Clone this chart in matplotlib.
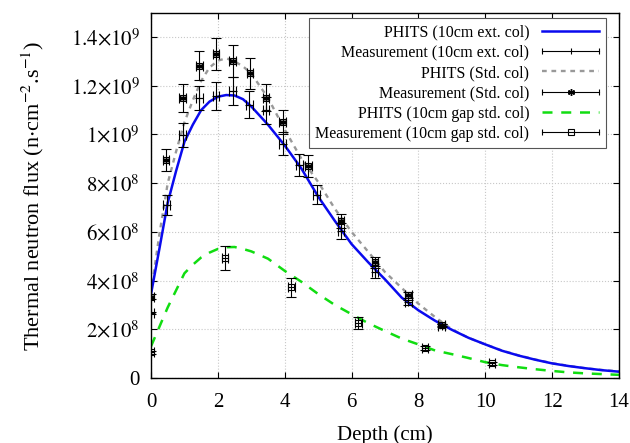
import matplotlib
matplotlib.use('Agg')
import matplotlib.pyplot as plt
import numpy as np
from matplotlib.lines import Line2D
from matplotlib.legend_handler import HandlerBase
from matplotlib.ticker import FuncFormatter, MultipleLocator

plt.rcParams['font.family'] = ['Liberation Serif', 'DejaVu Serif']
plt.rcParams['mathtext.fontset'] = 'stix'

# simulation curves (flux in 1e8 n/cm2/s)
depth_sim = [0, 0.25, 0.5, 0.75, 1.0, 1.25, 1.5, 1.75, 2.0, 2.25, 2.5, 2.75, 3.0,
             3.5, 4.0, 4.5, 5.0, 5.5, 6.0, 6.5, 7.0, 7.5, 8.0, 8.5, 9.0, 9.5,
             10.0, 10.5, 11.0, 11.5, 12.0, 12.5, 13.0, 13.5, 14.0]
phits_ext = [3.45, 5.3, 7.2, 8.5, 9.7, 10.4, 11.0, 11.35, 11.55, 11.62, 11.6, 11.45, 11.15,
             10.4, 9.55, 8.6, 7.45, 6.45, 5.5, 4.75, 4.05, 3.3, 2.78, 2.35, 1.98, 1.65,
             1.38, 1.12, 0.92, 0.75, 0.6, 0.49, 0.4, 0.32, 0.26]
phits_std = [3.5, 5.9, 8.0, 9.3, 10.5, 11.4, 12.2, 12.75, 13.03, 13.13, 13.0, 12.8, 12.5,
             11.5, 10.2, 9.0, 8.05, 6.95, 6.0, 5.18, 4.35, 3.7, 3.05, 2.5, 2.0, 1.65,
             1.38, 1.13, 0.93, 0.76, 0.61, 0.5, 0.4, 0.33, 0.27]
phits_gap = [1.3, 2.1, 2.9, 3.6, 4.3, 4.65, 4.95, 5.15, 5.3, 5.37, 5.38, 5.3, 5.2,
             4.9, 4.4, 3.95, 3.45, 3.0, 2.62, 2.25, 1.93, 1.62, 1.38, 1.13, 0.98, 0.82,
             0.65, 0.53, 0.44, 0.36, 0.29, 0.23, 0.19, 0.16, 0.13]

# measurements
depth_ext = [0, 0.47, 0.95, 1.45, 1.94, 2.44, 2.94, 3.44, 3.94, 4.44, 4.96, 5.68, 6.7, 7.7, 8.7]
meas_ext = [2.66, 7.1, 9.98, 11.5, 11.58, 11.8, 11.22, 11.0, 9.62, 8.75, 7.52, 6.05, 4.35, 3.11, 2.15]
err_ext = [0.05, 0.41, 0.48, 0.51, 0.58, 0.58, 0.55, 0.55, 0.47, 0.45, 0.39, 0.33, 0.24, 0.1, 0.05]

depth_std = [0, 0.45, 0.95, 1.45, 1.94, 2.44, 2.96, 3.44, 3.94, 4.71, 5.68, 6.7, 7.7, 8.7]
meas_std = [3.34, 8.95, 11.49, 12.83, 13.31, 13.02, 12.51, 11.51, 10.53, 8.71, 6.45, 4.75, 3.41, 2.17]
err_std = [0.1, 0.46, 0.58, 0.6, 0.67, 0.64, 0.64, 0.55, 0.49, 0.44, 0.29, 0.22, 0.12, 0.05]

depth_gap = [0, 2.21, 4.2, 6.2, 8.2, 10.2]
meas_gap = [1.05, 4.92, 3.72, 2.25, 1.22, 0.6]
err_gap = [0.05, 0.49, 0.38, 0.25, 0.08, 0.05]

x_err = 0.1
scale = 1e8


class BarHandler(HandlerBase):
    def __init__(self, markers):
        super().__init__()
        self.markers = markers

    def create_artists(self, legend, orig, xd, yd, w, h, fs, trans):
        y = (h - yd) / 2
        x0, x1 = -xd, w - xd
        arts = [Line2D([x0, x1], [y, y], color='k', lw=0.8),
                Line2D([x0, x1], [y, y], ls='none', marker='|', ms=5, mew=0.8, color='k')]
        for m in self.markers:
            arts.append(Line2D([(x0 + x1) / 2], [y], ls='none', color='k', **m))
        for a in arts:
            a.set_transform(trans)
        return arts


def fmt(v, pos):
    if v <= 0:
        return '0'
    e = int(np.floor(np.log10(v) + 1e-9))
    m = v / 10**e
    ms = ('%.1f' % m).rstrip('0').rstrip('.')
    return r'$%s{\times}10^{%d}$' % (ms, e)


def main():
    fig = plt.figure(figsize=(6.3, 4.43), dpi=100)
    ax = fig.add_axes([0.2397, 0.1467, 0.7428, 0.8246])

    xs = np.array(depth_sim)
    ax.plot(xs, np.array(phits_std) * scale, color='#999999', lw=1.7, dashes=(2, 2))
    ax.plot(xs, np.array(phits_ext) * scale, color='#0a0aee', lw=1.8)
    ax.plot(xs, np.array(phits_gap) * scale, color='#11dd11', lw=1.8, dashes=(4, 3.5))

    eb = dict(color='k', elinewidth=0.8, capsize=3.5, capthick=0.8, ls='none')
    ax.errorbar(depth_ext, np.array(meas_ext) * scale, yerr=np.array(err_ext) * scale,
                xerr=x_err, marker='+', ms=6, mew=0.8, **eb)
    ax.errorbar(depth_std, np.array(meas_std) * scale, yerr=np.array(err_std) * scale,
                xerr=x_err, marker='s', ms=5, mfc='none', mew=0.8, **eb)
    ax.plot(depth_std, np.array(meas_std) * scale, ls='none', marker=(6, 2, 0),
            ms=4, mew=1.0, color='k')
    ax.errorbar(depth_gap, np.array(meas_gap) * scale, yerr=np.array(err_gap) * scale,
                xerr=x_err, marker='s', ms=5, mfc='none', mew=0.8, **eb)

    ax.set_xlim(0, 14)
    ax.set_ylim(0, 1.5e9)
    ax.xaxis.set_major_locator(MultipleLocator(2))
    ax.yaxis.set_major_locator(MultipleLocator(2e8))
    ax.yaxis.set_major_formatter(FuncFormatter(fmt))
    ax.grid(True, color='#c8c8c8', ls=':', lw=0.8)
    ax.tick_params(direction='in', top=True, right=True, length=4, width=0.8,
                   labelsize=15, pad=8)
    ax.tick_params(axis='x', pad=11)
    for s in ax.spines.values():
        s.set_linewidth(1.0)

    ax.set_xlabel('Depth (cm)', fontsize=15, labelpad=9)
    ax.set_ylabel(r'Thermal neutron flux (n$\cdot$cm$^{-2}$.s$^{-1}$)', fontsize=16, labelpad=18)

    h1 = Line2D([], [], color='#0a0aee', lw=1.8)
    h2 = Line2D([], [])
    h3 = Line2D([], [], color='#999999', lw=1.7, dashes=(2, 2))
    h4 = Line2D([], [])
    h5 = Line2D([], [], color='#11dd11', lw=1.8, dashes=(4, 3.5))
    h6 = Line2D([], [])
    handler_map = {
        h2: BarHandler([dict(marker='|', ms=5, mew=0.8)]),
        h4: BarHandler([dict(marker=(6, 2, 0), ms=5, mew=1.0)]),
        h6: BarHandler([dict(marker='s', ms=5, mfc='none', mew=0.8)]),
    }
    labels = ['PHITS (10cm ext. col)', 'Measurement (10cm ext. col)',
              'PHITS (Std. col)', 'Measurement (Std. col)',
              'PHITS (10cm gap std. col)', 'Measurement (10cm gap std. col)']
    leg = ax.legend([h1, h2, h3, h4, h5, h6], labels, handler_map=handler_map,
                    loc='upper right', bbox_to_anchor=(0.972, 0.9855),
                    borderaxespad=0, markerfirst=False, fontsize=11.5,
                    handlelength=3.6, labelspacing=0.27, borderpad=0.4,
                    fancybox=False, framealpha=1, edgecolor='#555555')
    leg.get_frame().set_linewidth(0.8)

    fig.savefig('out.png', dpi=100)


if __name__ == '__main__':
    main()
